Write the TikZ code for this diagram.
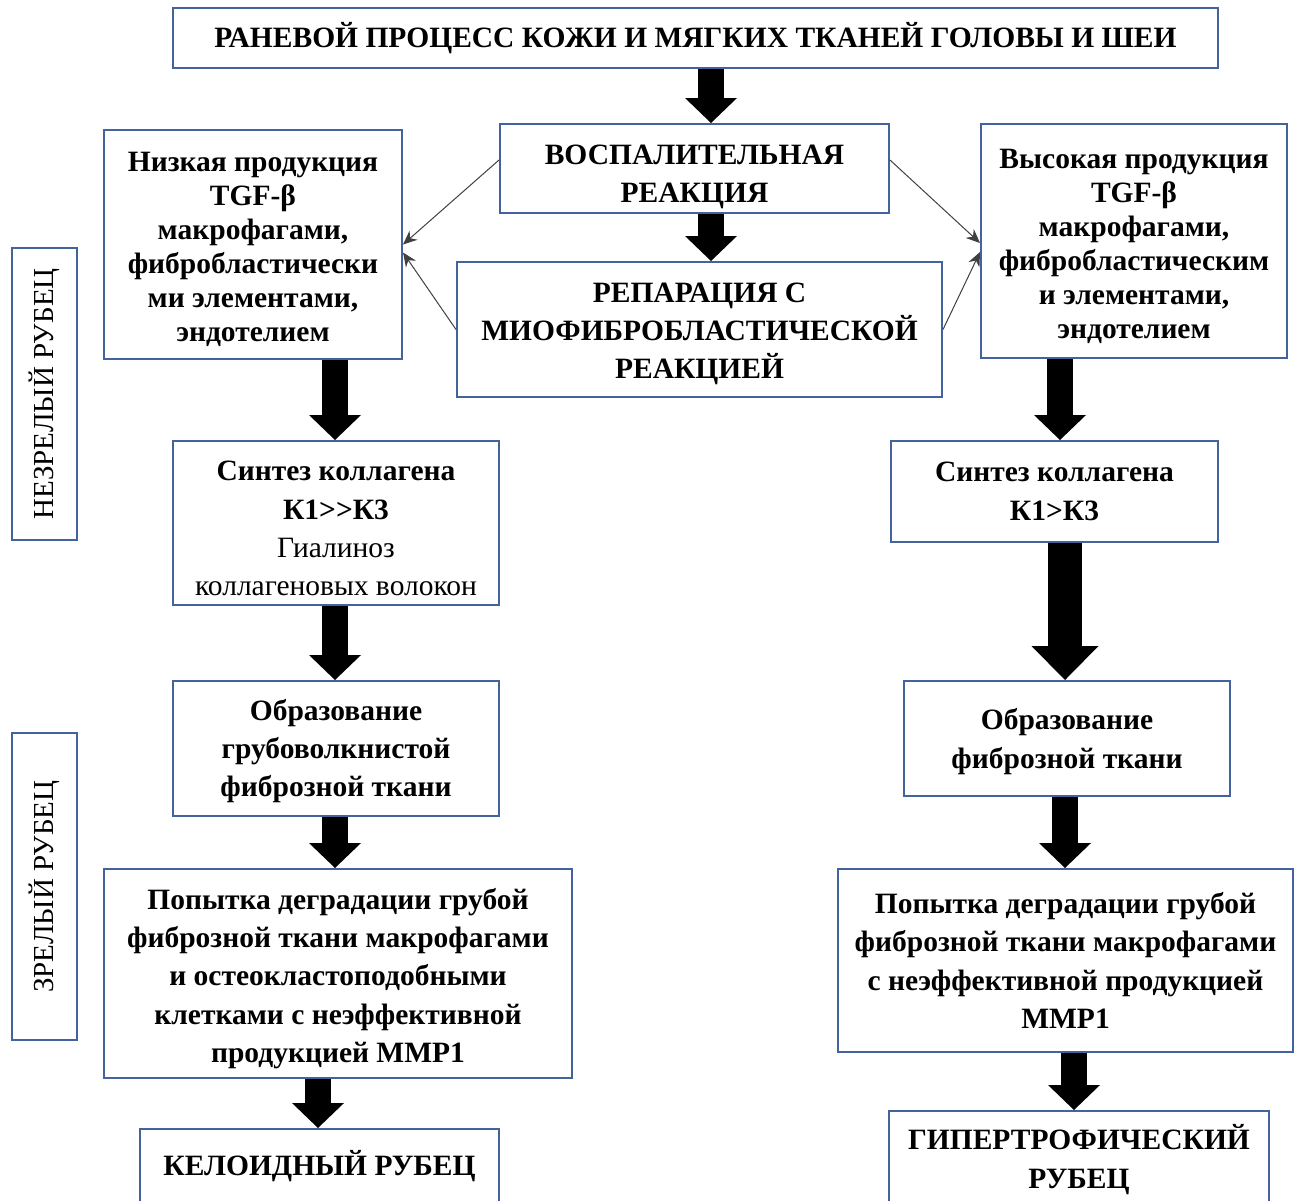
\documentclass[tikz,border=0pt]{standalone}
\usepackage{fontspec}
\setmainfont{Liberation Serif}
\usetikzlibrary{arrows.meta}
\definecolor{boxblue}{HTML}{4262A0}
\newcommand{\topgap}[1]{\rule{0pt}{#1pt}}

\begin{document}
\begin{tikzpicture}[
    x=1pt, y=-1pt,
    box/.style={
        rectangle, draw=boxblue, line width=2pt, inner sep=0pt,
        align=center, font=\fontsize{29.5}{38.3}\selectfont\bfseries
    },
    tightbox/.style={
        box, font=\fontsize{29.5}{34}\selectfont\bfseries
    },
    sidebox/.style={
        rectangle, draw=boxblue, line width=2pt, inner sep=0pt,
        rotate=90, font=\fontsize{29}{34}\selectfont
    },
    fat/.style={line width=26pt, -{Triangle[length=25pt, width=52pt, line width=0pt]}},
    bigfat/.style={line width=34pt, -{Triangle[length=34pt, width=67pt, line width=0pt]}},
    arr/.style={line width=1pt, draw=black!75, -{Stealth[length=14pt, width=12pt]}}
]
\useasboundingbox (0,0) rectangle (1297,1200);
\clip (0,0) rectangle (1297,1200);

% Nodes
\node[box, minimum width=1045pt, minimum height=60pt] (top) at (695.5,38)
    {РАНЕВОЙ ПРОЦЕСС КОЖИ И МЯГКИХ ТКАНЕЙ ГОЛОВЫ И ШЕИ};
\node[box, minimum width=389pt, minimum height=89pt] (infl) at (694.5,168.5)
    {\topgap{36}ВОСПАЛИТЕЛЬНАЯ\\РЕАКЦИЯ};
\node[box, minimum width=485pt, minimum height=135pt] (repair) at (699.5,329.5)
    {\topgap{28}РЕПАРАЦИЯ С\\МИОФИБРОБЛАСТИЧЕСКОЙ\\РЕАКЦИЕЙ};
\node[tightbox, minimum width=298pt, minimum height=229pt] (low) at (253,244.5)
    {\topgap{30}Низкая продукция\\TGF-β\\макрофагами,\\фибробластически\\ми элементами,\\эндотелием};
\node[tightbox, minimum width=306pt, minimum height=234pt] (high) at (1134,241)
    {\topgap{30}Высокая продукция\\TGF-β\\макрофагами,\\фибробластическим\\и элементами,\\эндотелием};
\node[box, minimum width=326pt, minimum height=164pt] (synL) at (336,523)
    {\topgap{31}Синтез коллагена\\К1>{}>К3\\{\mdseries Гиалиноз}\\{\mdseries коллагеновых волокон}};
\node[box, minimum width=327pt, minimum height=101pt] (synR) at (1054.5,491.5)
    {Синтез коллагена\\К1>К3};
\node[box, minimum width=326pt, minimum height=135pt] (fibL) at (336,748.5)
    {\topgap{26}Образование\\грубоволкнистой\\фиброзной ткани};
\node[box, minimum width=326pt, minimum height=115pt] (fibR) at (1067,738.5)
    {\topgap{27}Образование\\фиброзной ткани};
\node[box, minimum width=468pt, minimum height=209pt] (degL) at (338,973.5)
    {\topgap{31}Попытка деградации грубой\\фиброзной ткани макрофагами\\и остеокластоподобными\\клетками с неэффективной\\продукцией ММР1};
\node[box, minimum width=455pt, minimum height=183pt] (degR) at (1065.5,960.5)
    {Попытка деградации грубой\\фиброзной ткани макрофагами\\с неэффективной продукцией\\ММР1};
\node[box, minimum width=359pt, minimum height=74pt] (keloid) at (319.5,1166)
    {КЕЛОИДНЫЙ РУБЕЦ};
\node[box, minimum width=380pt, minimum height=97pt] (hyper) at (1079,1159.5)
    {\topgap{25}ГИПЕРТРОФИЧЕСКИЙ\\РУБЕЦ};

% Side labels
\node[sidebox, minimum width=292pt, minimum height=65pt] (immature) at (44.5,394) {НЕЗРЕЛЫЙ РУБЕЦ};
\node[sidebox, minimum width=307pt, minimum height=65pt] (mature) at (44.5,886.5) {ЗРЕЛЫЙ РУБЕЦ};

% Block arrows
\draw[fat] ([xshift=15.5pt]top.south) -- ([xshift=16.5pt]infl.north);
\draw[fat] ([xshift=16.5pt]infl.south) -- ([xshift=11.5pt]repair.north);
\draw[fat] ([xshift=82pt]low.south) -- ([xshift=-1pt]synL.north);
\draw[fat] ([xshift=-74pt]high.south) -- ([xshift=5.5pt]synR.north);
\draw[fat] ([xshift=-1pt]synL.south) -- ([xshift=-1pt]fibL.north);
\draw[bigfat] ([xshift=10.5pt]synR.south) -- ([xshift=-2pt]fibR.north);
\draw[fat] ([xshift=-1pt]fibL.south) -- ([xshift=-3pt]degL.north);
\draw[fat] ([xshift=-2pt]fibR.south) -- ([xshift=-0.5pt]degR.north);
\draw[fat] ([xshift=-20pt]degL.south) -- ([xshift=-1.5pt]keloid.north);
\draw[fat] ([xshift=8.5pt]degR.south) -- ([xshift=-5pt]hyper.north);

% Thin arrows
\draw[arr] ([yshift=8.5pt]infl.west) -- (low.east);
\draw[arr] (repair.west) -- ([yshift=-8pt]low.east);
\draw[arr] ([yshift=8.5pt]infl.east) -- ([yshift=-2pt]high.west);
\draw[arr] (repair.east) -- ([yshift=-11pt]high.west);

\end{tikzpicture}
\end{document}
